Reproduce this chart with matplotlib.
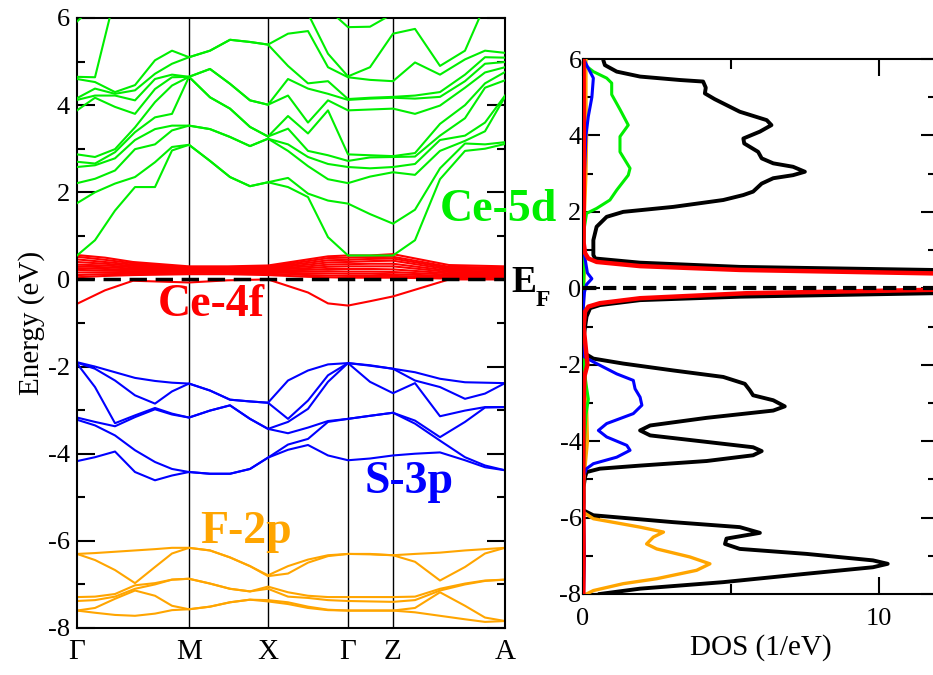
import numpy as np
import matplotlib
matplotlib.use('Agg')
import matplotlib.pyplot as plt

plt.rcParams['font.family'] = ['Liberation Serif', 'DejaVu Serif']
plt.rcParams['axes.unicode_minus'] = False

# k-path (distance along path, arbitrary units)
kpts = [0, 18, 38, 58, 78, 95, 112, 133, 153, 173, 191, 211, 231, 251, 271, 293, 316, 338, 363, 388, 408, 428]
hs_k = [0, 112, 191, 271, 316, 428]
hs_lab = ['Γ', 'M', 'X', 'Γ', 'Z', 'A']

# band energies (eV) at each k point, sorted
ce5d_E = [
    [0.55, 1.75, 2.21, 2.58, 2.70, 2.87, 3.88, 4.12, 4.16, 4.60, 4.65, 5.92, 6.9],
    [0.90, 2.00, 2.31, 2.62, 2.66, 2.81, 4.17, 4.22, 4.38, 4.53, 4.64, 6.30, 6.9],
    [1.58, 2.20, 2.50, 2.78, 2.92, 2.99, 3.96, 4.22, 4.26, 4.30, 6.50, 6.80, 7.0],
    [2.12, 2.35, 2.99, 3.20, 3.38, 3.49, 3.80, 4.11, 4.34, 4.46, 6.60, 6.90, 7.0],
    [2.12, 2.69, 3.10, 3.45, 3.72, 4.07, 4.37, 4.60, 4.72, 5.03, 6.60, 6.90, 7.0],
    [2.96, 3.04, 3.42, 3.53, 3.80, 4.45, 4.64, 4.70, 4.95, 5.25, 6.60, 6.90, 7.0],
    [3.09, 3.09, 3.53, 3.53, 4.65, 4.65, 4.65, 4.65, 5.10, 5.10, 6.60, 6.90, 7.0],
    [2.72, 2.72, 3.45, 3.45, 4.18, 4.18, 4.83, 4.83, 5.25, 5.25, 6.60, 6.90, 7.0],
    [2.35, 2.35, 3.27, 3.27, 3.92, 3.92, 4.49, 4.49, 5.50, 5.50, 6.60, 6.90, 7.0],
    [2.14, 2.14, 3.06, 3.06, 3.50, 3.50, 4.11, 4.11, 5.45, 5.45, 6.60, 6.90, 7.0],
    [2.23, 2.23, 3.23, 3.23, 3.28, 3.28, 4.01, 4.01, 5.39, 5.39, 6.60, 6.90, 7.0],
    [2.12, 2.33, 2.95, 3.10, 3.46, 3.75, 4.22, 4.60, 4.90, 5.64, 6.40, 6.90, 7.0],
    [1.89, 1.97, 2.60, 2.81, 2.95, 3.35, 3.60, 4.38, 4.50, 5.70, 6.10, 6.90, 7.0],
    [0.97, 1.81, 2.30, 2.65, 2.85, 3.88, 4.11, 4.26, 4.55, 4.87, 5.18, 6.20, 7.0],
    [0.55, 1.74, 2.21, 2.58, 2.72, 2.87, 3.88, 4.12, 4.14, 4.64, 4.66, 5.79, 7.0],
    [0.55, 1.50, 2.36, 2.55, 2.80, 2.85, 3.90, 4.15, 4.17, 4.58, 4.87, 5.80, 7.0],
    [0.55, 1.28, 2.46, 2.58, 2.81, 2.83, 3.92, 4.17, 4.19, 4.55, 5.64, 6.10, 7.0],
    [0.90, 1.60, 2.40, 2.65, 2.82, 2.90, 3.80, 4.15, 4.22, 4.98, 5.75, 6.40, 7.0],
    [2.30, 2.55, 2.95, 3.20, 3.30, 3.57, 3.99, 4.19, 4.30, 4.70, 4.90, 6.50, 7.0],
    [2.95, 3.12, 3.18, 3.30, 3.70, 4.00, 4.40, 4.55, 4.70, 5.05, 5.25, 6.60, 7.0],
    [3.00, 3.10, 3.40, 3.60, 4.40, 4.50, 4.75, 4.95, 5.10, 5.25, 6.30, 6.60, 7.0],
    [3.11, 3.15, 4.19, 4.22, 4.57, 4.76, 4.87, 4.99, 5.09, 5.20, 6.30, 6.60, 7.0],
]

s3p_E = [
    [-1.90, -1.91, -1.93, -3.17, -3.22, -4.17],
    [-2.00, -2.05, -2.47, -3.27, -3.35, -4.08],
    [-2.13, -2.32, -3.30, -3.37, -3.58, -3.95],
    [-2.26, -2.66, -3.12, -3.16, -3.92, -4.42],
    [-2.33, -2.85, -2.95, -2.98, -4.19, -4.61],
    [-2.37, -2.57, -3.08, -3.10, -4.35, -4.50],
    [-2.39, -2.39, -3.17, -3.17, -4.42, -4.42],
    [-2.55, -2.55, -3.01, -3.01, -4.46, -4.46],
    [-2.76, -2.76, -2.89, -2.89, -4.46, -4.46],
    [-2.80, -2.80, -3.20, -3.20, -4.35, -4.35],
    [-2.83, -2.83, -3.43, -3.43, -4.09, -4.09],
    [-2.32, -3.20, -3.27, -3.53, -3.79, -3.91],
    [-2.09, -2.78, -2.97, -3.40, -3.66, -3.80],
    [-1.95, -2.20, -2.35, -3.25, -3.27, -4.04],
    [-1.92, -1.92, -1.92, -3.20, -3.20, -4.15],
    [-1.97, -1.98, -2.35, -3.13, -3.13, -4.11],
    [-2.05, -2.05, -2.61, -3.06, -3.06, -4.04],
    [-2.13, -2.32, -2.38, -3.24, -3.31, -4.00],
    [-2.28, -2.47, -3.14, -3.62, -3.70, -3.97],
    [-2.36, -2.74, -3.01, -3.27, -4.08, -4.15],
    [-2.37, -2.62, -2.93, -2.94, -4.27, -4.31],
    [-2.38, -2.38, -2.93, -2.93, -4.38, -4.38],
]

f2p_E = [
    [-6.30, -6.30, -7.29, -7.38, -7.60, -7.60],
    [-6.28, -6.44, -7.28, -7.36, -7.54, -7.65],
    [-6.25, -6.67, -7.22, -7.28, -7.33, -7.70],
    [-6.22, -6.97, -7.02, -7.10, -7.14, -7.72],
    [-6.19, -6.60, -6.97, -7.00, -7.26, -7.67],
    [-6.16, -6.29, -6.89, -6.89, -7.49, -7.59],
    [-6.16, -6.16, -6.87, -6.87, -7.57, -7.57],
    [-6.22, -6.22, -6.98, -6.98, -7.51, -7.51],
    [-6.38, -6.38, -7.10, -7.10, -7.41, -7.41],
    [-6.58, -6.58, -7.16, -7.16, -7.35, -7.35],
    [-6.79, -6.81, -7.05, -7.10, -7.36, -7.39],
    [-6.58, -6.75, -7.18, -7.28, -7.41, -7.45],
    [-6.43, -6.50, -7.26, -7.31, -7.51, -7.54],
    [-6.33, -6.35, -7.29, -7.36, -7.58, -7.59],
    [-6.30, -6.30, -7.29, -7.38, -7.60, -7.60],
    [-6.30, -6.31, -7.29, -7.39, -7.60, -7.60],
    [-6.33, -6.33, -7.29, -7.40, -7.60, -7.60],
    [-6.30, -6.48, -7.28, -7.36, -7.54, -7.64],
    [-6.27, -6.91, -7.10, -7.14, -7.18, -7.72],
    [-6.22, -6.60, -6.98, -7.00, -7.49, -7.80],
    [-6.19, -6.29, -6.91, -6.92, -7.76, -7.86],
    [-6.16, -6.16, -6.89, -6.89, -7.84, -7.84],
]

# Ce-4f bands on a coarser k grid
k4f = [0, 28, 56, 112, 151, 191, 231, 251, 271, 293, 316, 372, 428]
ce4f_low = [-0.56, -0.25, -0.03, -0.07, -0.02, 0.00, -0.30, -0.55, -0.60, -0.50, -0.39, 0.00, 0.00]
ce4f_E = [
    [0.05, 0.10, 0.16, 0.22, 0.26, 0.30, 0.34, 0.40, 0.46, 0.52, 0.56],
    [0.08, 0.12, 0.16, 0.20, 0.24, 0.28, 0.32, 0.36, 0.40, 0.45, 0.50],
    [0.10, 0.13, 0.16, 0.19, 0.22, 0.25, 0.28, 0.31, 0.34, 0.37, 0.40],
    [0.12, 0.15, 0.18, 0.20, 0.22, 0.24, 0.25, 0.26, 0.27, 0.28, 0.30],
    [0.12, 0.15, 0.17, 0.19, 0.21, 0.23, 0.24, 0.25, 0.26, 0.28, 0.30],
    [0.10, 0.13, 0.16, 0.18, 0.20, 0.22, 0.24, 0.26, 0.28, 0.30, 0.32],
    [0.06, 0.10, 0.14, 0.18, 0.22, 0.26, 0.30, 0.34, 0.38, 0.42, 0.46],
    [0.05, 0.09, 0.14, 0.19, 0.24, 0.29, 0.34, 0.39, 0.44, 0.49, 0.53],
    [0.04, 0.08, 0.13, 0.18, 0.24, 0.30, 0.35, 0.40, 0.45, 0.50, 0.55],
    [0.04, 0.08, 0.13, 0.18, 0.24, 0.30, 0.36, 0.42, 0.47, 0.51, 0.55],
    [0.04, 0.08, 0.12, 0.17, 0.23, 0.30, 0.36, 0.43, 0.48, 0.52, 0.58],
    [0.02, 0.05, 0.08, 0.11, 0.14, 0.17, 0.20, 0.23, 0.26, 0.29, 0.33],
    [0.02, 0.05, 0.08, 0.10, 0.13, 0.16, 0.18, 0.21, 0.24, 0.27, 0.30],
]

# DOS curves (energy, states/eV)
E_tot = [6.0, 5.96, 5.84, 5.67, 5.54, 5.45, 5.41, 5.25, 5.10, 4.95, 4.62, 4.40, 4.27, 4.10, 3.92, 3.79,
         3.57, 3.40, 3.27, 3.18, 3.05, 2.96, 2.88, 2.74, 2.53, 2.44, 2.31, 2.13, 2.00, 1.87, 1.61, 1.26,
         0.87, 0.78, 0.67, 0.56, 0.48, 0.38, 0.20, 0.00, -0.13, -0.22, -0.31, -0.44, -0.52, -0.74, -1.01,
         -1.35, -1.60, -1.71, -1.84, -1.97, -2.15, -2.32, -2.50, -2.67, -2.80, -2.93, -3.09, -3.20, -3.39,
         -3.59, -3.72, -3.85, -4.02, -4.16, -4.26, -4.37, -4.52, -4.64, -4.72, -4.81, -4.94, -5.20, -5.60,
         -5.81, -5.94, -6.12, -6.25, -6.40, -6.55, -6.69, -6.82, -6.95, -7.12, -7.21, -7.30, -7.47, -7.69,
         -7.86, -8.00]
D_tot = [0.68, 0.69, 0.74, 1.14, 1.93, 3.28, 4.06, 4.15, 4.12, 4.45, 5.30, 6.21, 6.37, 5.98, 5.42, 5.45,
         5.92, 6.04, 6.43, 7.10, 7.50, 7.10, 6.43, 6.04, 5.75, 5.42, 4.74, 3.05, 1.36, 0.80, 0.46, 0.35,
         0.35, 0.41, 1.93, 5.30, 11.8, 40.0, 30.0, 40.0, 11.8, 5.30, 1.93, 0.57, 0.24, 0.12, 0.07,
         0.01, 0.02, 0.07, 0.35, 1.36, 3.05, 4.74, 5.47, 5.64, 5.75, 6.43, 6.82, 6.43, 4.18,
         2.27, 1.93, 2.27, 4.18, 5.75, 6.04, 5.75, 4.18, 1.93, 0.57, 0.12, 0.07, 0.02, 0.02,
         0.01, 0.35, 3.05, 5.30, 5.98, 4.85, 4.80, 5.30, 7.55, 9.80, 10.30, 9.80, 7.55, 4.74,
         1.93, 0.57]

E_f2p = [6.0, 5.0, 4.0, 3.0, 2.0, 1.0, 0.5, 0.0, -1.0, -2.0, -3.0, -4.0, -5.0, -5.86, -6.03, -6.25,
         -6.38, -6.51, -6.69, -6.82, -7.03, -7.21, -7.38, -7.60, -7.73, -7.91, -8.0]
D_f2p = [0.10, 0.10, 0.12, 0.10, 0.05, 0.03, 0.05, 0.02, 0.01, 0.05, 0.12, 0.15, 0.03, 0.01, 0.35, 1.93,
         2.72, 2.38, 2.15, 2.49, 3.61, 4.29, 3.84, 2.49, 1.36, 0.35, 0.12]

E_ce5d = [6.0, 5.84, 5.67, 5.50, 5.37, 5.07, 4.68, 4.27, 3.97, 3.57, 3.14, 2.96, 2.57, 2.31, 2.09, 1.96,
          1.61, 1.0, 0.5, 0.0, -1.0, -2.0, -2.5, -2.9, -3.3, -4.0, -5.0, -7.0, -8.0]
D_ce5d = [0.05, 0.07, 0.35, 0.80, 0.97, 0.97, 1.25, 1.53, 1.25, 1.25, 1.59, 1.53, 1.14, 0.91, 0.46, 0.12,
          0.05, 0.02, 0.03, 0.02, 0.01, 0.03, 0.10, 0.18, 0.10, 0.05, 0.01, 0.03, 0.01]

E_s3p = [6.0, 5.8, 5.5, 5.0, 4.5, 4.0, 3.0, 2.0, 1.0, 0.4, 0.25, 0.1, -0.1, -0.5, -1.5, -1.80, -1.97,
         -2.24, -2.41, -2.63, -2.85, -3.06, -3.28, -3.54, -3.72, -3.89, -4.11, -4.24, -4.42, -4.59,
         -4.72, -4.9, -6.0, -7.0, -8.0]
D_s3p = [0.02, 0.15, 0.35, 0.30, 0.18, 0.10, 0.05, 0.03, 0.02, 0.15, 0.30, 0.12, 0.05, 0.01, 0.01, 0.05,
         0.46, 1.14, 1.70, 1.76, 1.93, 1.99, 1.70, 0.80, 0.52, 0.80, 1.48, 1.59, 1.14, 0.35,
         0.12, 0.02, 0.02, 0.05, 0.02]

E_ce4f = [6.0, 3.0, 1.2, 0.92, 0.78, 0.69, 0.58, 0.48, 0.39, 0.30, 0.15, 0.0, -0.04, -0.13, -0.26,
          -0.39, -0.48, -0.61, -1.0, -2.0, -2.3, -3.0, -5.0, -7.0, -8.0]
D_ce4f = [0.02, 0.03, 0.02, 0.07, 0.18, 0.46, 1.93, 5.30, 11.8, 40.0, 30.0, 40.0, 11.8, 5.5, 1.93,
          0.57, 0.18, 0.07, 0.02, 0.15, 0.05, 0.02, 0.01, 0.02, 0.01]

c_green = '#00ee00'
c_red = '#ff0000'
c_blue = '#0000ff'
c_orange = '#ffa500'

fig = plt.figure(figsize=(9.33, 6.75), dpi=100)
ax1 = fig.add_axes([77/933, 47/675, 428/933, 610/675])
ax2 = fig.add_axes([583/933, 81/675, 355/933, 535/675])

# ---- band structure ----
for k in hs_k[1:-1]:
    ax1.axvline(k, color='k', lw=1.0, zorder=1)

for b in np.array(f2p_E).T:
    ax1.plot(kpts, b, color=c_orange, lw=1.5, zorder=2)
for b in np.array(s3p_E).T:
    ax1.plot(kpts, b, color=c_blue, lw=1.5, zorder=2)
for b in np.array(ce4f_E).T:
    ax1.plot(k4f, b, color=c_red, lw=1.5, zorder=2)
ax1.plot(k4f, ce4f_low, color=c_red, lw=1.5, zorder=2)
for b in np.array(ce5d_E).T:
    ax1.plot(kpts, b, color=c_green, lw=1.5, zorder=3)

ax1.axhline(0, color='k', lw=2.5, ls=(0, (5, 2.5)), zorder=4)

ax1.set_xlim(0, 428)
ax1.set_ylim(-8, 6)
ax1.set_xticks(hs_k)
ax1.set_xticklabels(hs_lab, fontsize=21)
ax1.tick_params(axis='x', length=0, pad=8)
ax1.set_yticks(range(-8, 7, 2))
ax1.set_yticks(range(-7, 6, 2), minor=True)
ax1.tick_params(axis='y', which='both', direction='in', left=True, right=True,
                width=1.5, labelsize=19, pad=5)
ax1.tick_params(axis='y', which='major', length=13)
ax1.tick_params(axis='y', which='minor', length=6)
ax1.set_ylabel('Energy (eV)', fontsize=21, labelpad=2)
for sp in ax1.spines.values():
    sp.set_linewidth(1.5)

bold = dict(fontweight='bold', fontsize=33, clip_on=False)
ax1.text(363, 1.35, 'Ce-5d', color=c_green, **bold)
ax1.text(81, -0.85, 'Ce-4f', color=c_red, **bold)
ax1.text(288, -4.91, 'S-3p', color=c_blue, **bold)
ax1.text(123, -6.06, 'F-2p', color=c_orange, **bold)
ax1.text(434, -0.30, 'E', color='k', fontweight='bold', fontsize=27, clip_on=False)
ax1.text(459, -0.62, 'F', color='k', fontweight='bold', fontsize=17, clip_on=False)

# ---- DOS ----
ax2.plot(D_tot, E_tot, color='k', lw=2.8, zorder=2)
ax2.plot(D_f2p, E_f2p, color=c_orange, lw=2.4, zorder=3)
ax2.plot(D_ce5d, E_ce5d, color=c_green, lw=2.2, zorder=3)
ax2.plot(D_s3p, E_s3p, color=c_blue, lw=2.2, zorder=3)
ax2.plot(D_ce4f, E_ce4f, color=c_red, lw=3.2, zorder=4)
ax2.axhline(0, color='k', lw=3, ls=(0, (3.2, 1.6)), zorder=5)

ax2.set_xlim(0, 12)
ax2.set_ylim(-8, 6)
ax2.set_xticks([0, 10])
ax2.set_xticks([5], minor=True)
ax2.set_yticks(range(-8, 7, 2))
ax2.set_yticks(range(-7, 6, 2), minor=True)
ax2.tick_params(which='both', direction='in', top=True, right=True, width=1.5,
                labelsize=19)
ax2.tick_params(which='major', length=12)
ax2.tick_params(which='minor', length=7)
ax2.tick_params(axis='x', pad=10)
ax2.tick_params(axis='y', pad=1)
ax2.set_xlabel('DOS (1/eV)', fontsize=21, labelpad=3)
for sp in ax2.spines.values():
    sp.set_linewidth(1.5)

fig.savefig('out.png', dpi=100)
